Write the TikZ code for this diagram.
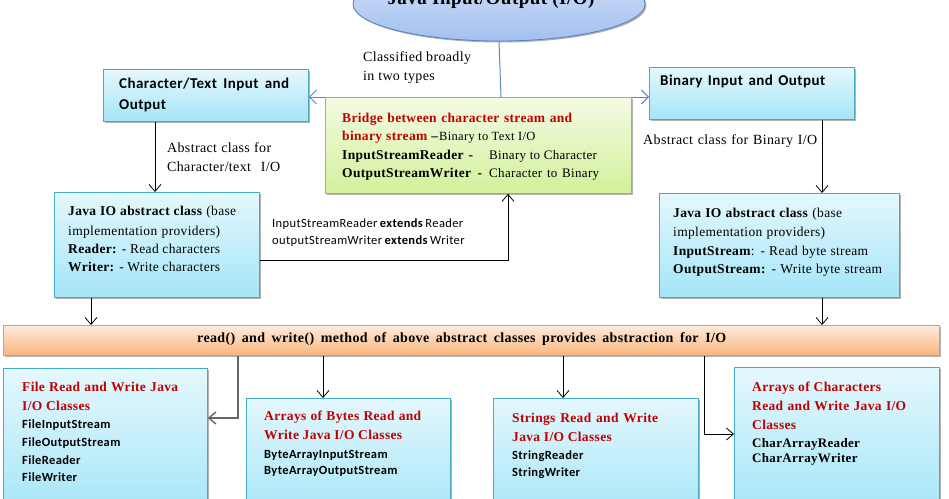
\documentclass[tikz,border=0pt]{standalone}
\usepackage{fontspec}
\setmainfont{Liberation Serif}[LetterSpace=2.5]
\newfontfamily\calfont{Carlito}[LetterSpace=3]
\usetikzlibrary{arrows.meta,shadows,shapes.geometric}
\newcommand\spr[2]{\makebox[#1pt][s]{#2}}
\definecolor{boxborder}{HTML}{46AAC5}
\definecolor{boxtop}{HTML}{E4F8FD}
\definecolor{boxbot}{HTML}{A4E5F8}
\definecolor{grnborder}{HTML}{9BBB59}
\definecolor{grntop}{HTML}{F4FBE4}
\definecolor{grnbot}{HTML}{D3F09A}
\definecolor{orgborder}{HTML}{F79646}
\definecolor{orgtop}{HTML}{FDEBDC}
\definecolor{orgbot}{HTML}{F9B67C}
\definecolor{ellborder}{HTML}{4F81BD}
\definecolor{elltop}{HTML}{D6E3F8}
\definecolor{ellbot}{HTML}{A2C0F0}
\definecolor{redtext}{HTML}{C00000}
\definecolor{blueline}{HTML}{5B87C5}
\begin{document}
\begin{tikzpicture}[x=1pt,y=-1pt,
  shad/.style={drop shadow={shadow xshift=1.5pt,shadow yshift=-1.5pt,opacity=0.3,fill=black}},
  box/.style={draw=boxborder,line width=0.8pt,top color=boxtop,bottom color=boxbot,anchor=north west,inner sep=0pt,shad},
  gbox/.style={draw=grnborder,line width=0.8pt,top color=grntop,bottom color=grnbot,anchor=north west,inner sep=0pt,shad},
  obox/.style={draw=orgborder,line width=0.8pt,top color=orgtop,bottom color=orgbot,anchor=north west,inner sep=0pt,shad},
  tl/.style={anchor=base west,inner sep=0pt},
  hd/.style={tl,font=\calfont\bfseries\fontsize{15}{17}\selectfont},
  sr/.style={tl,font=\fontsize{14}{16}\selectfont},
  jv/.style={tl,font=\fontsize{13.5}{16}\selectfont},
  rt/.style={tl,font=\bfseries\fontsize{13.5}{16}\selectfont,text=redtext},
  gt/.style={tl,font=\bfseries\fontsize{13.5}{16}\selectfont},
  gs/.style={tl,font=\fontsize{13}{15}\selectfont},
  cls/.style={tl,font=\calfont\bfseries\fontsize{12.5}{14}\selectfont},
  sm/.style={tl,font=\calfont\fontsize{12.5}{14}\selectfont},
  arr/.style={-{Straight Barb[length=7pt,width=12pt]},line width=0.8pt},
  barr/.style={-{Straight Barb[length=7pt,width=14pt]},line width=1pt,draw=blueline}
]
\useasboundingbox (0,0) rectangle (949,498);
\clip (0,0) rectangle (949,498);

\coordinate (hub) at (501,97);

\node[ellipse,draw=ellborder,line width=0.8pt,top color=elltop,bottom color=ellbot,minimum width=292pt,minimum height=74pt,inner sep=0pt,shad] (io) at (499,4) {};
\node[tl,anchor=base,font=\bfseries\fontsize{19}{22}\selectfont] (iot) at (491,4) {Java Input/Output (I/O)};

\node[box,minimum width=205pt,minimum height=52pt] (ct) at (103,69) {};
\node[box,minimum width=205pt,minimum height=52pt] (bt) at (649,67) {};

\draw[line width=1pt,draw=blueline] (io.south) -- (hub);
\draw[barr] (hub) -- (ct.east |- hub);
\draw[barr] (hub) -- (bt.west |- hub);

\node[gbox,minimum width=306pt,minimum height=96pt] (gr) at (325,97) {};

\node[box,minimum width=205pt,minimum height=105pt] (cj) at (54,192) {};
\node[box,minimum width=240pt,minimum height=104pt] (bj) at (659,193) {};

\node[obox,minimum width=936pt,minimum height=30pt] (bar) at (3,325) {};

\node[box,minimum width=204pt,minimum height=150pt] (fb) at (3,368) {};
\node[box,minimum width=204pt,minimum height=120pt] (yb) at (246,398) {};
\node[box,minimum width=205pt,minimum height=120pt] (sb) at (493,398) {};
\node[box,minimum width=205pt,minimum height=150pt] (cb) at (734,367) {};

% ---- connectors ----
\draw[arr] (ct.south -| 155,0) -- (cj.north -| 155,0);
\draw[arr] (bt.south -| 822,0) -- (bj.north -| 822,0);
\coordinate (ext) at (508,260);
\draw[arr] (cj.east |- ext) -- (ext) -- (gr.south -| ext);
\draw[arr] (cj.south -| 91,0) -- (bar.north -| 91,0);
\draw[arr] (bj.south -| 822,0) -- (bar.north -| 822,0);
\coordinate (fk) at (238,418);
\draw[arr,draw=black!60,line width=1.4pt] (bar.south -| fk) -- (fk) -- (fb.east |- fk);
\draw[arr] (bar.south -| 323,0) -- (yb.north -| 323,0);
\draw[arr] (bar.south -| 563,0) -- (sb.north -| 563,0);
\coordinate (ck) at (704,434);
\draw[arr] (bar.south -| ck) -- (ck) -- (cb.west |- ck);

% ---- texts ----
\node[hd] (ct1) at (119,88) {\spr{170}{Character/Text Input and}};
\node[hd] (ct2) at (119,109) {Output};
\node[hd] (bt1) at (660,85) {\spr{165}{Binary Input and Output}};

\node[sr] (cl1) at (363,61) {Classified broadly};
\node[sr] (cl2) at (363,80) {in two types};

\node[sr] (ac1) at (167,152) {\spr{104}{Abstract class for}};
\node[sr] (ac2) at (167,171) {\spr{113}{Character/text I/O}};
\node[sr] (ab1) at (643,144) {\spr{174}{Abstract class for Binary I/O}};

\node[gt,text=redtext] (g1) at (342,122) {\spr{230}{Bridge between character stream and}};
\node[gt,text=redtext] (g2) at (342,140) {\spr{96}{binary stream \textcolor{black}{–}}};
\node[tl,font=\fontsize{12.5}{14}\selectfont] (g2b) at (439,140) {Binary to Text I/O};
\node[gt] (g3) at (342,159) {\spr{131}{InputStreamReader -}};
\node[gs] (g3b) at (489,159) {Binary to Character};
\node[gt] (g4) at (342,177) {\spr{140}{OutputStreamWriter -}};
\node[gs] (g4b) at (489,177) {\spr{110}{Character to Binary}};

\node[sm] (ex1) at (272,227) {\spr{189}{InputStreamReader \textbf{extends} Reader}};
\node[sm] (ex2) at (272,244) {\spr{190}{outputStreamWriter \textbf{extends} Writer}};

\node[jv] (cj1) at (68,215) {\spr{168}{\textbf{Java IO abstract class} (base}};
\node[jv] (cj2) at (68,235) {\spr{152}{implementation providers)}};
\node[jv] (cj3) at (68,253) {\spr{152}{\textbf{Reader:} - Read characters}};
\node[jv] (cj4) at (68,271) {\spr{152}{\textbf{Writer:} - Write characters}};

\node[jv] (bj1) at (673,217) {\spr{169}{\textbf{Java IO abstract class} (base}};
\node[jv] (bj2) at (673,236) {\spr{152}{implementation providers)}};
\node[jv] (bj3) at (673,255) {\spr{195}{\textbf{InputStream}: - Read byte stream}};
\node[jv] (bj4) at (673,273) {\spr{209}{\textbf{OutputStream:} - Write byte stream}};

\node[tl,font=\bfseries\fontsize{14}{16}\selectfont] (bart) at (197,342) {\spr{529}{read() and write() method of above abstract classes provides abstraction for I/O}};

\node[rt] (f1) at (22,391) {\spr{156}{File Read and Write Java}};
\node[rt] (f2) at (22,410) {I/O Classes};
\node[cls] (f3) at (22,428) {FileInputStream};
\node[cls] (f4) at (22,446) {FileOutputStream};
\node[cls] (f5) at (22,464) {FileReader};
\node[cls] (f6) at (22,481) {FileWriter};

\node[rt] (y1) at (264,420) {\spr{157}{Arrays of Bytes Read and}};
\node[rt] (y2) at (264,439) {\spr{138}{Write Java I/O Classes}};
\node[cls] (y3) at (264,458) {ByteArrayInputStream};
\node[cls] (y4) at (264,474) {ByteArrayOutputStream};

\node[rt] (s1) at (512,422) {\spr{146}{Strings Read and Write}};
\node[rt] (s2) at (512,441) {Java I/O Classes};
\node[cls] (s3) at (512,459) {StringReader};
\node[cls] (s4) at (512,476) {StringWriter};

\node[rt] (c1) at (752,391) {\spr{129}{Arrays of Characters}};
\node[rt] (c2) at (752,410) {\spr{154}{Read and Write Java I/O}};
\node[rt] (c3) at (752,429) {Classes};
\node[tl,font=\bfseries\fontsize{13}{15}\selectfont] (c4) at (752,447) {CharArrayReader};
\node[tl,font=\bfseries\fontsize{13}{15}\selectfont] (c5) at (752,462) {CharArrayWriter};
\end{tikzpicture}
\end{document}
